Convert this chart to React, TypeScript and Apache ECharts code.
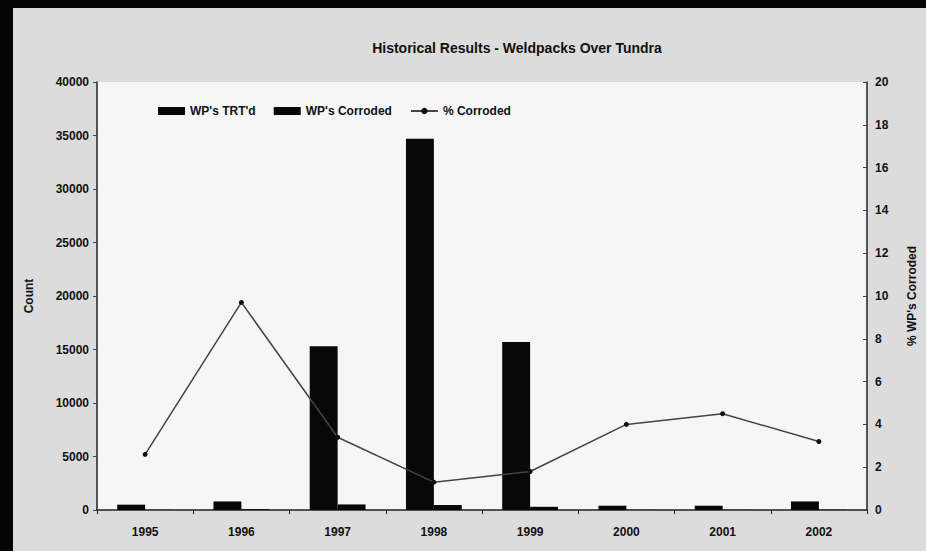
import React, { useEffect, useRef } from "react";
import * as echarts from "echarts";

const years = ["1995", "1996", "1997", "1998", "1999", "2000", "2001", "2002"];
const wpTreated = [500, 800, 15300, 34700, 15700, 400, 400, 800];
const wpCorroded = [15, 80, 520, 470, 300, 16, 18, 26];
const pctCorroded = [2.6, 9.7, 3.4, 1.3, 1.8, 4.0, 4.5, 3.2];

const titleText = "Historical Results - Weldpacks Over Tundra";
const FONT = "'Liberation Sans', Arial, sans-serif";

export default function App() {
  const ref = useRef<HTMLDivElement>(null);
  useEffect(() => {
    document.body.style.margin = "0";
    if (!ref.current) return;
    const chart = echarts.init(ref.current, null, { renderer: "svg" });
    const label = { color: "#111", fontFamily: FONT, fontWeight: "bold" as const, fontSize: 12 };
    chart.setOption({
      animation: false,
      backgroundColor: "#dcdcdc",
      title: {
        text: titleText,
        left: 512,
        top: 36,
        textAlign: "center",
        textStyle: { color: "#111", fontFamily: FONT, fontWeight: "bold", fontSize: 14 },
      },
      graphic: [
        { type: "rect", shape: { x: 0, y: 0, width: 926, height: 8 }, style: { fill: "#050505" }, z: 100 },
        { type: "rect", shape: { x: 0, y: 0, width: 13, height: 551 }, style: { fill: "#050505" }, z: 100 },
      ],
      legend: {
        left: 153,
        top: 100,
        itemGap: 18,
        itemWidth: 27,
        itemHeight: 8,
        textStyle: { color: "#111", fontFamily: FONT, fontWeight: "bold", fontSize: 12 },
        data: [
          { name: "WP's TRT'd", icon: "rect" },
          { name: "WP's Corroded", icon: "rect" },
          { name: "% Corroded" },
        ],
      },
      grid: {
        left: 97,
        right: 53,
        top: 82,
        bottom: 41,
        show: true,
        backgroundColor: "#f6f6f6",
        borderWidth: 0,
      },
      xAxis: {
        type: "category",
        data: years,
        axisLine: { lineStyle: { color: "#222", width: 1.5 } },
        axisTick: { show: true, length: 4, lineStyle: { color: "#222" } },
        axisLabel: { ...label, margin: 16 },
      },
      yAxis: [
        {
          type: "value",
          min: 0,
          max: 40000,
          interval: 5000,
          name: "Count",
          nameLocation: "middle",
          nameGap: 62,
          nameRotate: 90,
          nameTextStyle: { color: "#111", fontFamily: FONT, fontWeight: "bold", fontSize: 12 },
          axisLine: { show: true, lineStyle: { color: "#222", width: 1.5 } },
          axisTick: { show: true, length: 4, lineStyle: { color: "#444" } },
          axisLabel: { ...label, margin: 8, formatter: (v: number) => String(v) },
          splitLine: { show: false },
        },
        {
          type: "value",
          min: 0,
          max: 20,
          interval: 2,
          name: "% WP's Corroded",
          nameLocation: "middle",
          nameGap: 39,
          nameRotate: 90,
          nameTextStyle: { color: "#111", fontFamily: FONT, fontWeight: "bold", fontSize: 12 },
          axisLine: { show: true, lineStyle: { color: "#222", width: 1.5 } },
          axisTick: { show: true, inside: true, length: 4, lineStyle: { color: "#444" } },
          axisLabel: { ...label, margin: 8, formatter: (v: number) => String(v) },
          splitLine: { show: false },
        },
      ],
      series: [
        {
          name: "WP's TRT'd",
          type: "bar",
          data: wpTreated,
          barGap: "0%",
          barCategoryGap: "42%",
          itemStyle: { color: "#080808" },
        },
        {
          name: "WP's Corroded",
          type: "bar",
          data: wpCorroded,
          itemStyle: { color: "#080808" },
        },
        {
          name: "% Corroded",
          type: "line",
          yAxisIndex: 1,
          data: pctCorroded,
          symbol: "circle",
          symbolSize: 5,
          lineStyle: { color: "#444", width: 1.5 },
          itemStyle: { color: "#111" },
          z: 5,
        },
      ],
    });
    return () => chart.dispose();
  }, []);
  return <div ref={ref} style={{ width: 926, height: 551 }} />;
}
